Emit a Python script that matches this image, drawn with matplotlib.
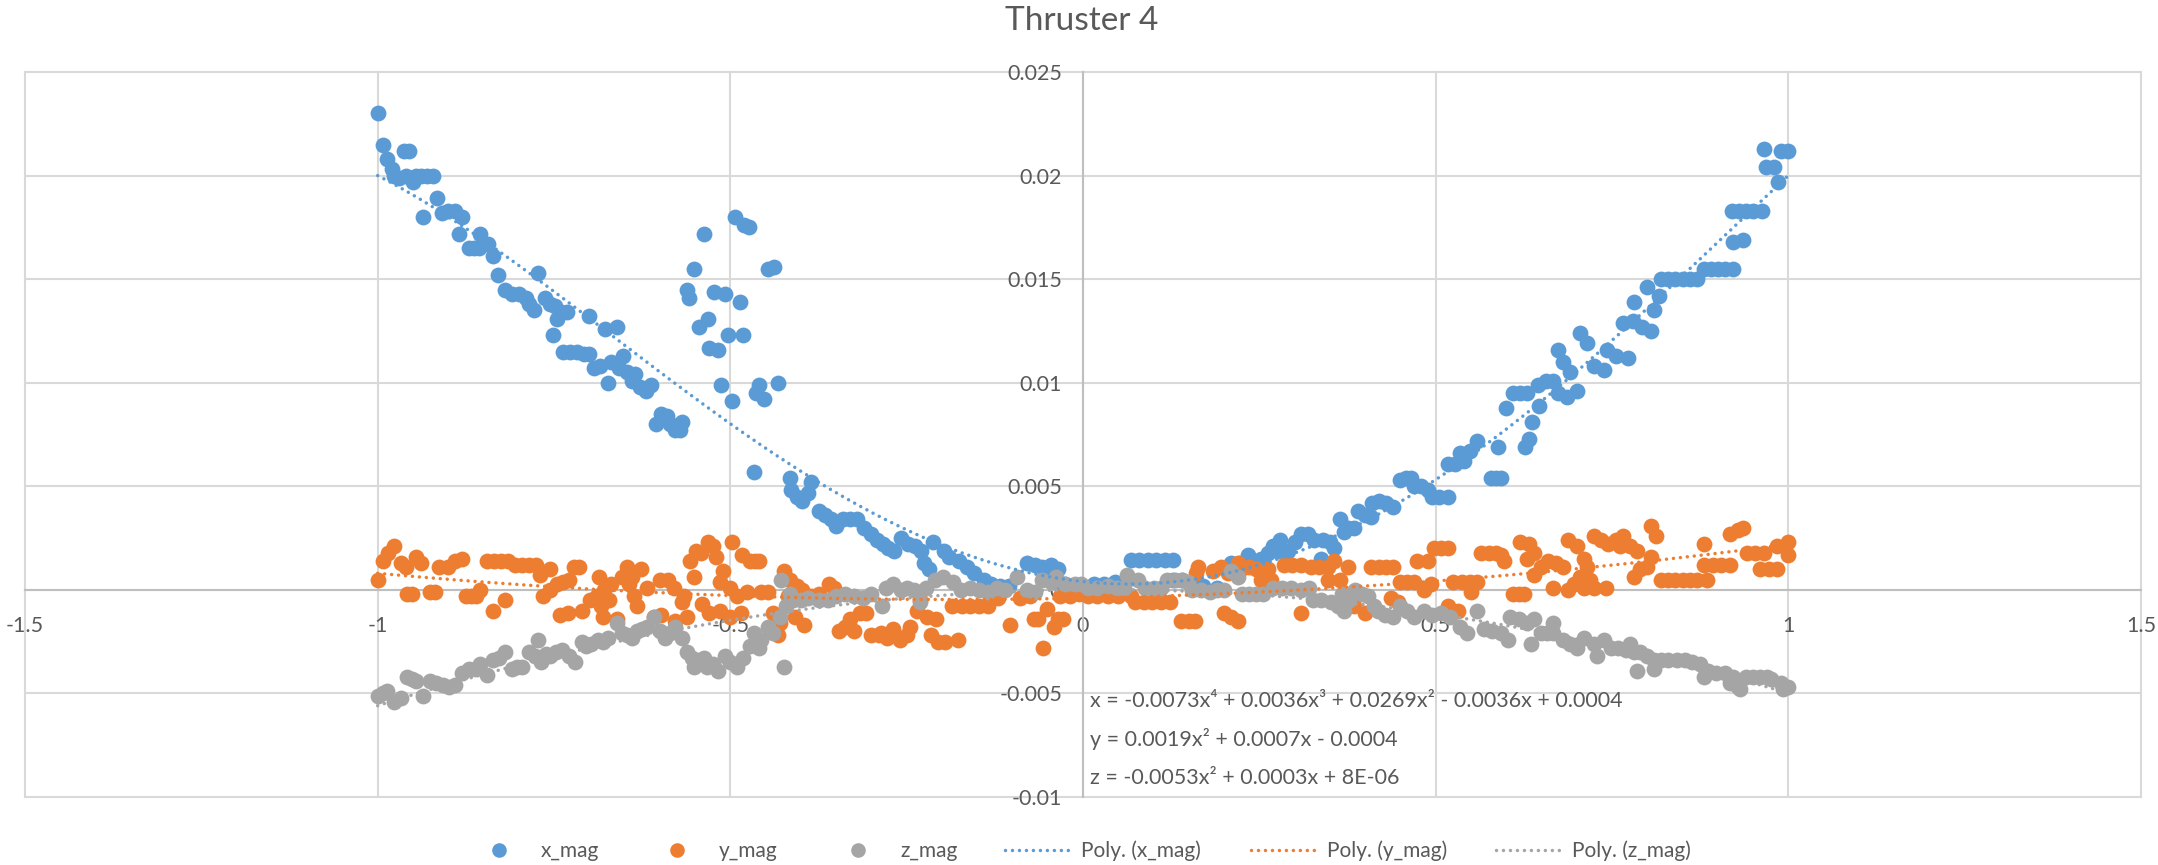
import numpy as np
import matplotlib
matplotlib.use("Agg")
import matplotlib.pyplot as plt
from matplotlib.lines import Line2D

# ---------------- data ----------------
x_mag_x = [-1.000, -0.992, -0.987, -0.980, -0.977, -0.970, -0.962, -0.955, -0.960, -0.950, -0.945, -0.938,
           -0.930, -0.922, -0.936, -0.916, -0.909, -0.900, -0.890, -0.880, -0.884, -0.871, -0.864, -0.857,
           -0.855, -0.843, -0.836, -0.829, -0.820, -0.810, -0.800, -0.790, -0.785, -0.778, -0.772, -0.763,
           -0.755, -0.749, -0.746, -0.752, -0.740, -0.732, -0.737, -0.728, -0.718, -0.708, -0.701, -0.701,
           -0.693, -0.685, -0.678, -0.673, -0.669, -0.661, -0.658, -0.652, -0.646, -0.640, -0.635, -0.628,
           -0.620, -0.612, -0.605, -0.598, -0.590, -0.585, -0.578, -0.569, -0.572,
           -0.562, -0.558, -0.552, -0.545, -0.537, -0.531, -0.530, -0.523, -0.517, -0.513, -0.508, -0.503,
           -0.497, -0.493, -0.487, -0.482, -0.480, -0.473, -0.467, -0.463, -0.459, -0.452, -0.446, -0.438,
           -0.432,
           -0.416, -0.414, -0.405, -0.398, -0.390, -0.385, -0.375, -0.366, -0.357, -0.350, -0.340, -0.330,
           -0.320, -0.310, -0.300, -0.292, -0.284, -0.276, -0.268, -0.258, -0.248, -0.238, -0.229, -0.225,
           -0.218, -0.212, -0.197, -0.190, -0.176, -0.165, -0.154, -0.140, -0.130, -0.118, -0.105, -0.079,
           -0.068, -0.058, -0.046, -0.035, -0.050, -0.040, -0.025, -0.012,
           0.000, 0.015, 0.030, 0.045, 0.060, 0.068, 0.080, 0.092, 0.104, 0.116, 0.127, 0.128,
           0.140, 0.153, 0.170, 0.190, 0.210, 0.222, 0.234, 0.240, 0.252, 0.262, 0.270, 0.276,
           0.280, 0.290, 0.300, 0.309, 0.319, 0.327, 0.337, 0.340, 0.350, 0.356, 0.365, 0.370,
           0.375, 0.384, 0.390, 0.400, 0.408, 0.410, 0.420, 0.430, 0.440, 0.450, 0.458, 0.465,
           0.469, 0.479, 0.489, 0.495, 0.505, 0.517, 0.517, 0.528, 0.540, 0.535, 0.548, 0.559,
           0.578, 0.585, 0.592, 0.588, 0.600, 0.610, 0.620, 0.630, 0.627, 0.632, 0.637, 0.646,
           0.645, 0.656, 0.667, 0.673, 0.681, 0.691, 0.673, 0.686, 0.701, 0.705, 0.715, 0.724,
           0.738, 0.743, 0.755, 0.766, 0.772, 0.781, 0.780, 0.792, 0.800, 0.805, 0.809, 0.816,
           0.820, 0.830, 0.840, 0.850, 0.860, 0.870, 0.880, 0.890, 0.900, 0.910, 0.921, 0.921,
           0.936, 0.920, 0.930, 0.940, 0.950, 0.963, 0.965, 0.968, 0.980, 0.986, 0.990, 1.000]
x_mag_y = [0.0230, 0.0215, 0.0208, 0.0203, 0.0200, 0.0199, 0.0212, 0.0212, 0.0200, 0.0197, 0.0200, 0.0200,
           0.0200, 0.0200, 0.0180, 0.0189, 0.0182, 0.0183, 0.0183, 0.0180, 0.0172, 0.0165, 0.0165, 0.0165,
           0.0172, 0.0167, 0.0161, 0.0152, 0.0145, 0.0143, 0.0143, 0.0141, 0.0138, 0.0135, 0.0153, 0.0141,
           0.0138, 0.0137, 0.0131, 0.0123, 0.0134, 0.0134, 0.0115, 0.0115, 0.0115, 0.0114, 0.0132, 0.0114,
           0.0107, 0.0108, 0.0126, 0.0100, 0.0110, 0.0127, 0.0107, 0.0113, 0.0105, 0.0101, 0.0104, 0.0098,
           0.0096, 0.0099, 0.0080, 0.0085, 0.0084, 0.0080, 0.0077, 0.0081, 0.0077,
           0.0145, 0.0141, 0.0155, 0.0127, 0.0172, 0.0131, 0.0117, 0.0144, 0.0116, 0.0099, 0.0143, 0.0123,
           0.0091, 0.0180, 0.0139, 0.0123, 0.0176, 0.0175, 0.0057, 0.0095, 0.0099, 0.0092, 0.0155, 0.0156,
           0.0100,
           0.0054, 0.0048, 0.0045, 0.0043, 0.0047, 0.0052, 0.0038, 0.0036, 0.0034, 0.0031, 0.0034, 0.0034,
           0.0034, 0.0030, 0.0027, 0.0024, 0.0022, 0.0020, 0.0019, 0.0025, 0.0022, 0.0021, 0.0019, 0.0013,
           0.0010, 0.0023, 0.0019, 0.0016, 0.0014, 0.0011, 0.0008, 0.0005, 0.0003, 0.0002, 0.0002, 0.0013,
           0.0012, 0.0011, 0.0012, 0.0010, 0.0006, 0.0004, 0.0003, 0.0002,
           0.0002, 0.0003, 0.0003, 0.0004, 0.0004, 0.00145, 0.00145, 0.00145, 0.00145, 0.00145, 0.00145, 0.0005,
           0.0005, 0.0003, 0.0002, 0.0001, 0.0013, 0.0013, 0.0017, 0.0012, 0.0015, 0.0018, 0.0021, 0.0019,
           0.0024, 0.0019, 0.0023, 0.0027, 0.0027, 0.0024, 0.0015, 0.0024, 0.0023, 0.0020, 0.0034, 0.0028,
           0.0030, 0.0030, 0.0038, 0.0036, 0.0035, 0.0042, 0.0043, 0.0042, 0.0040, 0.0053, 0.0054, 0.0054,
           0.0050, 0.0050, 0.0048, 0.0045, 0.0045, 0.0045, 0.0061, 0.0061, 0.0062, 0.0066, 0.0067, 0.0072,
           0.0054, 0.0054, 0.0054, 0.0069, 0.0088, 0.0095, 0.0095, 0.0095, 0.0069, 0.0073, 0.0081, 0.0089,
           0.0099, 0.0101, 0.0101, 0.0116, 0.0110, 0.0105, 0.0095, 0.0093, 0.0096, 0.0124, 0.0119, 0.0108,
           0.0106, 0.0116, 0.0113, 0.0129, 0.0112, 0.0139, 0.0130, 0.0127, 0.0146, 0.0125, 0.0135, 0.0142,
           0.0150, 0.0150, 0.0150, 0.0150, 0.0150, 0.0150, 0.0155, 0.0155, 0.0155, 0.0155, 0.0155, 0.0168,
           0.0169, 0.0183, 0.0183, 0.0183, 0.0183, 0.0183, 0.0213, 0.0204, 0.0204, 0.0197, 0.0212, 0.0212]

y_mag_x = [-1.000, -0.993, -0.985, -0.977, -0.967, -0.960, -0.959, -0.952, -0.946, -0.939, -0.926, -0.919,
           -0.913, -0.900, -0.890, -0.880, -0.875, -0.868, -0.861, -0.855, -0.845, -0.836, -0.835, -0.825,
           -0.820, -0.815, -0.806, -0.795, -0.785, -0.775, -0.770, -0.765, -0.755, -0.755, -0.746, -0.741,
           -0.737, -0.729, -0.730, -0.722, -0.714, -0.710, -0.699, -0.686, -0.689, -0.683, -0.679, -0.680,
           -0.669, -0.672, -0.653, -0.660, -0.646, -0.643, -0.639, -0.636, -0.633, -0.626, -0.618, -0.608,
           -0.600, -0.598, -0.588, -0.580, -0.578, -0.569, -0.565, -0.562, -0.557, -0.552, -0.548, -0.541,
           -0.540, -0.531, -0.530, -0.524, -0.521, -0.515, -0.514, -0.510, -0.501, -0.497, -0.500, -0.490,
           -0.485, -0.484, -0.476, -0.472, -0.465, -0.459, -0.456, -0.446, -0.440, -0.433, -0.430, -0.424,
           -0.415, -0.418, -0.408, -0.405, -0.398, -0.395, -0.385, -0.375, -0.360, -0.353, -0.346, -0.337,
           -0.330, -0.324, -0.316, -0.307, -0.300, -0.289, -0.286, -0.278, -0.269, -0.259, -0.249, -0.245,
           -0.236, -0.231, -0.221, -0.215, -0.208, -0.205, -0.195, -0.186, -0.177, -0.172, -0.160, -0.148,
           -0.135, -0.120, -0.104, -0.090, -0.075, -0.069, -0.064, -0.057, -0.051, -0.041, -0.035, -0.028,
           -0.032, -0.018, -0.005,
           0.007, 0.020, 0.035, 0.050, 0.068, 0.074, 0.086, 0.098, 0.110, 0.123, 0.139, 0.150,
           0.159, 0.160, 0.163, 0.184, 0.195, 0.200, 0.205, 0.210, 0.220, 0.220, 0.224, 0.235,
           0.245, 0.252, 0.262, 0.266, 0.285, 0.297, 0.309, 0.309, 0.323, 0.335, 0.347, 0.347,
           0.356, 0.365, 0.375, 0.384, 0.400, 0.408, 0.420, 0.430, 0.440, 0.436, 0.446, 0.450,
           0.460, 0.469, 0.474, 0.483, 0.489, 0.493, 0.497, 0.507, 0.517, 0.517, 0.531, 0.525,
           0.537, 0.548, 0.559, 0.550, 0.564, 0.575, 0.585, 0.592, 0.597, 0.610, 0.618, 0.625,
           0.620, 0.633, 0.630, 0.639, 0.639, 0.649, 0.659, 0.667, 0.670, 0.681, 0.687, 0.687,
           0.696, 0.701, 0.705, 0.710, 0.710, 0.715, 0.719, 0.724, 0.724, 0.734, 0.741, 0.745,
           0.755, 0.762, 0.766, 0.776, 0.781, 0.786, 0.790, 0.800, 0.805, 0.805, 0.812, 0.819,
           0.830, 0.840, 0.850, 0.860, 0.870, 0.885, 0.880, 0.880, 0.893, 0.905, 0.918, 0.918,
           0.928, 0.936, 0.942, 0.953, 0.965, 0.960, 0.972, 0.984, 0.984, 0.999, 1.000]
y_mag_y = [0.0005, 0.0014, 0.0018, 0.0021, 0.0013, 0.0011, -0.0002, -0.0002, 0.0016, 0.0013, -0.0001, -0.0001,
           0.0011, 0.0011, 0.0014, 0.0015, -0.0003, -0.0003, -0.0003, 0.0000, 0.0014, -0.0010, 0.0014, 0.0014,
           -0.0005, 0.0014, 0.0012, 0.0012, 0.0012, 0.0012, 0.0007, -0.0003, 0.0010, 0.0000, 0.0003, -0.0012,
           0.0004, 0.0005, -0.0011, 0.0011, 0.0011, -0.0010, -0.0005, 0.0006, -0.0003, -0.0008, 0.0000, -0.0013,
           0.0003, -0.0005, 0.0006, -0.0014, 0.0011, 0.0003, 0.0006, -0.0003, -0.0008, 0.0010, 0.0001, -0.0013,
           0.0005, -0.0012, 0.0005, 0.0001, -0.0015, -0.0006, -0.0003, -0.0013, 0.0014, 0.0006, 0.0019, 0.0018,
           -0.0007, 0.0023, -0.0011, 0.0021, 0.0016, -0.0010, 0.0004, 0.0009, 0.0001, 0.0023, -0.0013, -0.0003,
           -0.0011, 0.0017, -0.0001, 0.0014, 0.0014, 0.0014, -0.0001, -0.0001, -0.0011, -0.0022, -0.0016, 0.0009,
           0.0005, -0.0003, -0.0013, 0.0002, 0.0000, -0.0017, -0.0003, -0.0002, 0.0003, 0.0001, -0.0020, -0.0018,
           -0.0014, -0.0020, -0.0011, -0.0011, -0.0022, -0.0022, -0.0021, -0.0023, -0.0019, -0.0024, -0.0022, -0.0018,
           -0.0010, -0.0005, -0.0013, -0.0022, -0.0014, -0.0025, -0.0025, -0.0008, -0.0024, -0.0008, -0.0008, -0.0008,
           -0.0008, -0.0004, -0.0017, -0.0004, -0.0003, -0.0014, -0.0014, -0.0028, -0.0009, -0.0018, -0.0014, -0.0014,
           -0.0003, -0.0003, -0.0002,
           -0.0003, -0.0003, -0.0003, -0.0003, -0.0003, -0.0006, -0.0006, -0.0006, -0.0006, -0.0006, -0.0015, -0.0015,
           -0.0015, 0.0008, 0.0011, 0.0009, 0.0011, -0.0011, 0.0008, -0.0013, -0.0015, 0.0013, 0.0010, 0.0011,
           0.0010, 0.0005, 0.0010, 0.0005, 0.0012, 0.0012, 0.0012, -0.0011, 0.0011, 0.0011, 0.0011, 0.0005,
           0.0014, 0.0005, 0.0011, -0.0008, -0.0011, 0.0011, 0.0011, 0.0011, 0.0011, -0.0004, -0.0006, 0.0004,
           0.0004, 0.0004, 0.0014, 0.0000, 0.0014, 0.0003, 0.0020, 0.0020, 0.0020, -0.0008, -0.0010, 0.0004,
           0.0004, 0.0004, 0.0004, -0.0001, 0.0018, 0.0018, 0.0018, 0.0017, 0.0014, -0.0002, -0.0002, -0.0002,
           0.0023, 0.0022, 0.0015, 0.0018, 0.0007, 0.0011, 0.0014, 0.0001, 0.0013, 0.0011, 0.0000, 0.0024,
           0.0003, 0.0021, 0.0006, 0.0015, 0.0001, 0.0011, 0.0005, 0.0001, 0.0026, 0.0024, 0.0001, 0.0022,
           0.0024, 0.0021, 0.0026, 0.0021, 0.0006, 0.0019, 0.0010, 0.0011, 0.0016, 0.0031, 0.0026, 0.0005,
           0.0005, 0.0005, 0.0005, 0.0005, 0.0005, 0.0005, 0.0022, 0.0012, 0.0012, 0.0012, 0.0012, 0.0027,
           0.0029, 0.0030, 0.0018, 0.0018, 0.0018, 0.0010, 0.0010, 0.0010, 0.0021, 0.0017, 0.0023]

z_mag_x = [-1.000, -0.993, -0.987, -0.977, -0.967, -0.959, -0.952, -0.946, -0.936, -0.926, -0.917, -0.908,
           -0.899, -0.890, -0.880, -0.870, -0.862, -0.855, -0.845, -0.836, -0.828, -0.820, -0.810, -0.803,
           -0.795, -0.785, -0.777, -0.772, -0.769, -0.762, -0.755, -0.747, -0.739, -0.729, -0.720, -0.711,
           -0.704, -0.698, -0.688, -0.680, -0.674, -0.661, -0.653, -0.646, -0.639, -0.633, -0.625, -0.618,
           -0.608, -0.600, -0.592, -0.585, -0.578, -0.568, -0.562, -0.555, -0.552, -0.545, -0.537, -0.533,
           -0.525, -0.517, -0.507, -0.500, -0.491, -0.482, -0.472, -0.466, -0.460, -0.456, -0.446, -0.440,
           -0.430, -0.428, -0.424, -0.421, -0.415, -0.411, -0.400, -0.390, -0.375, -0.362, -0.350, -0.338,
           -0.325, -0.312, -0.300, -0.285, -0.280, -0.269, -0.258, -0.249, -0.240, -0.231, -0.222, -0.210,
           -0.198, -0.185, -0.173, -0.160, -0.148, -0.135, -0.122, -0.110, -0.093, -0.080, -0.068, -0.058,
           -0.045, -0.038, -0.025, -0.012, -0.003,
           0.007, 0.020, 0.035, 0.048, 0.058, 0.062, 0.078, 0.088, 0.100, 0.110, 0.119, 0.130,
           0.140, 0.149, 0.155, 0.168, 0.180, 0.190, 0.200, 0.210, 0.220, 0.225, 0.235, 0.245,
           0.255, 0.270, 0.282, 0.295, 0.309, 0.320, 0.326, 0.337, 0.351, 0.361, 0.370, 0.367,
           0.377, 0.385, 0.395, 0.404, 0.412, 0.418, 0.428, 0.440, 0.450, 0.460, 0.469, 0.483,
           0.495, 0.508, 0.521, 0.535, 0.545, 0.559, 0.568, 0.580, 0.592, 0.602, 0.606, 0.618,
           0.630, 0.635, 0.639, 0.649, 0.658, 0.667, 0.667, 0.681, 0.691, 0.701, 0.710, 0.724,
           0.729, 0.738, 0.748, 0.758, 0.770, 0.776, 0.781, 0.786, 0.790, 0.800, 0.809, 0.809,
           0.819, 0.830, 0.842, 0.853, 0.864, 0.875, 0.880, 0.886, 0.898, 0.910, 0.922, 0.918,
           0.928, 0.932, 0.940, 0.950, 0.960, 0.970, 0.975, 0.989, 0.993, 1.000]
z_mag_y = [-0.0051, -0.0050, -0.0049, -0.0054, -0.0052, -0.0042, -0.0043, -0.0044, -0.0051, -0.0044, -0.0045, -0.0046,
           -0.0047, -0.0046, -0.0040, -0.0038, -0.0038, -0.0036, -0.0041, -0.0034, -0.0033, -0.0030, -0.0038, -0.0037,
           -0.0037, -0.0030, -0.0032, -0.0024, -0.0035, -0.0031, -0.0032, -0.0030, -0.0029, -0.0032, -0.0035, -0.0025,
           -0.0027, -0.0026, -0.0024, -0.0025, -0.0023, -0.0016, -0.0021, -0.0022, -0.0023, -0.0020, -0.0019, -0.0018,
           -0.0013, -0.0020, -0.0023, -0.0021, -0.0018, -0.0023, -0.0030, -0.0033, -0.0037, -0.0034, -0.0033, -0.0037,
           -0.0036, -0.0039, -0.0032, -0.0035, -0.0037, -0.0033, -0.0027, -0.0021, -0.0028, -0.0024, -0.0018, -0.0021,
           -0.0013, 0.0005, -0.0037, -0.0008, -0.0002, -0.0005, -0.0005, -0.0004, -0.0005, -0.0005, -0.0003, -0.0002,
           -0.0003, -0.0004, -0.0002, -0.0008, 0.0001, 0.0003, 0.0000, 0.0001, 0.0000, -0.0006, 0.0001, 0.0005,
           0.0006, 0.0004, 0.0000, 0.0001, 0.0000, -0.0001, 0.0001, 0.0000, 0.0006, 0.0000, -0.0001, 0.0005,
           0.0004, 0.0006, 0.0003, 0.0003, 0.0003,
           0.0001, 0.0001, 0.0002, 0.0001, 0.0001, 0.0007, 0.0005, 0.0001, 0.0001, 0.0001, 0.0005, 0.0005,
           0.0005, 0.0004, 0.0000, 0.0000, -0.0001, 0.0000, 0.0000, 0.0009, 0.0006, -0.0002, -0.0002, -0.0002,
           -0.0002, 0.0001, 0.0001, 0.0001, 0.0000, 0.0001, -0.0005, -0.0005, -0.0006, -0.0008, -0.0010, -0.0002,
           -0.0005, 0.0000, -0.0002, -0.0003, -0.0008, -0.0010, -0.0012, -0.0013, -0.0008, -0.0010, -0.0013, -0.0010,
           -0.0012, -0.0011, -0.0013, -0.0018, -0.0021, -0.0010, -0.0019, -0.0020, -0.0021, -0.0024, -0.0013, -0.0014,
           -0.0016, -0.0026, -0.0014, -0.0021, -0.0021, -0.0021, -0.0016, -0.0024, -0.0026, -0.0028, -0.0023, -0.0026,
           -0.0032, -0.0024, -0.0028, -0.0028, -0.0029, -0.0026, -0.0030, -0.0039, -0.0030, -0.0032, -0.0034, -0.0038,
           -0.0034, -0.0034, -0.0034, -0.0034, -0.0035, -0.0036, -0.0042, -0.0039, -0.0040, -0.0040, -0.0042, -0.0045,
           -0.0047, -0.0048, -0.0042, -0.0042, -0.0042, -0.0042, -0.0043, -0.0045, -0.0048, -0.0047]

# trendline coefficients (highest power first), as printed on the chart
poly_x = [-0.0073, 0.0036, 0.0269, -0.0036, 0.0004]
poly_y = [0.0019, 0.0007, -0.0004]
poly_z = [-0.0053, 0.0003, 8e-06]

eq_labels = ["x = -0.0073x\u2074 + 0.0036x\u00b3 + 0.0269x\u00b2 - 0.0036x + 0.0004",
             "y = 0.0019x\u00b2 + 0.0007x - 0.0004",
             "z = -0.0053x\u00b2 + 0.0003x + 8E-06"]
series_names = ["x_mag", "y_mag", "z_mag"]
trend_names = ["Poly. (x_mag)", "Poly. (y_mag)", "Poly. (z_mag)"]
x_ticks = [-1.5, -1, -0.5, 0, 0.5, 1, 1.5]
x_tick_labels = ["-1.5", "-1", "-0.5", "0", "0.5", "1", "1.5"]
y_ticks = [-0.01, -0.005, 0, 0.005, 0.01, 0.015, 0.02, 0.025]
y_tick_labels = ["-0.01", "-0.005", "0", "0.005", "0.01", "0.015", "0.02", "0.025"]
title = "Thruster 4"

# ---------------- styling ----------------
FONT = ["Lato", "DejaVu Sans"]
plt.rcParams["font.family"] = FONT
TXT = "#595959"
colors = ["#5B9BD5", "#ED7D31", "#A5A5A5"]
GRID = "#D9D9D9"
W, H = 2158, 865

fig = plt.figure(figsize=(W / 100, H / 100), dpi=100)
ax = fig.add_axes([25 / W, 1 - 797 / H, (2141 - 25) / W, (797 - 72) / H])
ax.set_xlim(-1.5, 1.5)
ax.set_ylim(-0.01, 0.025)

ms = 130
data = [(x_mag_x, x_mag_y), (y_mag_x, y_mag_y), (z_mag_x, z_mag_y)]
for (xs, ys), c in zip(data, colors):
    ax.scatter(xs, ys, s=ms, color=c, linewidths=0, zorder=3)

xx = np.linspace(-1, 1, 300)
dot_style = (0, (0.01, 2.0))
for coef, c in zip([poly_x, poly_y, poly_z], colors):
    ax.plot(xx, np.polyval(coef, xx), color=c, lw=2.5, linestyle=dot_style,
            dash_capstyle="round", zorder=4)

# axes through zero
for s in ["top", "right"]:
    ax.spines[s].set_visible(False)
ax.spines["left"].set_position(("data", 0))
ax.spines["bottom"].set_position(("data", 0))
for s in ["left", "bottom"]:
    ax.spines[s].set_color("#BFBFBF")
    ax.spines[s].set_linewidth(1.5)
    ax.spines[s].set_zorder(2)

ax.set_xticks(x_ticks)
ax.set_xticklabels(x_tick_labels)
ax.set_yticks(y_ticks)
ax.set_yticklabels(y_tick_labels)
ax.tick_params(axis="both", length=0, labelsize=15.5, labelcolor=TXT)
ax.tick_params(axis="x", pad=19)
ax.tick_params(axis="y", pad=15)
ax.grid(True, color=GRID, lw=1.5, zorder=0)
ax.set_axisbelow(True)
for gl in ax.get_xgridlines() + ax.get_ygridlines():
    gl.set_clip_on(False)

fig.text(1082 / W, 1 - 30 / H, title, ha="center", va="baseline", fontsize=24, color=TXT)

for i, lab in enumerate(eq_labels):
    fig.text(1090 / W, 1 - (701 + 38.5 * i) / H, lab, ha="left", va="center",
             fontsize=15.5, color=TXT, family=FONT)

# legend: one single-entry legend per item, placed like the reference
LFS = 15
em_px = LFS * 100 / 72
leg_y = 1 - 851 / H
marker_centers = [499, 677, 858]      # px
mk_hl = 1.6
mk_half_px = mk_hl * em_px / 2
for name, c, xc in zip(series_names, colors, marker_centers):
    h = Line2D([], [], linestyle="none", marker="o", markersize=10.5, color=c, markeredgewidth=0)
    fig.legend([h], [name], loc="center left", bbox_to_anchor=((xc - mk_half_px) / W, leg_y),
               frameon=False, fontsize=LFS, labelcolor=TXT, handlelength=mk_hl,
               handletextpad=(42 - mk_half_px) / em_px, borderpad=0, borderaxespad=0)
line_starts = [1005, 1251, 1496]       # px
line_len = 63                           # px
for name, c, xs0 in zip(trend_names, colors, line_starts):
    h = Line2D([], [], color=c, lw=2.5, linestyle=dot_style, dash_capstyle="round")
    fig.legend([h], [name], loc="center left", bbox_to_anchor=(xs0 / W, leg_y),
               frameon=False, fontsize=LFS, labelcolor=TXT, handlelength=line_len / em_px,
               handletextpad=13 / em_px, borderpad=0, borderaxespad=0)

fig.savefig("out.png", dpi=100)
